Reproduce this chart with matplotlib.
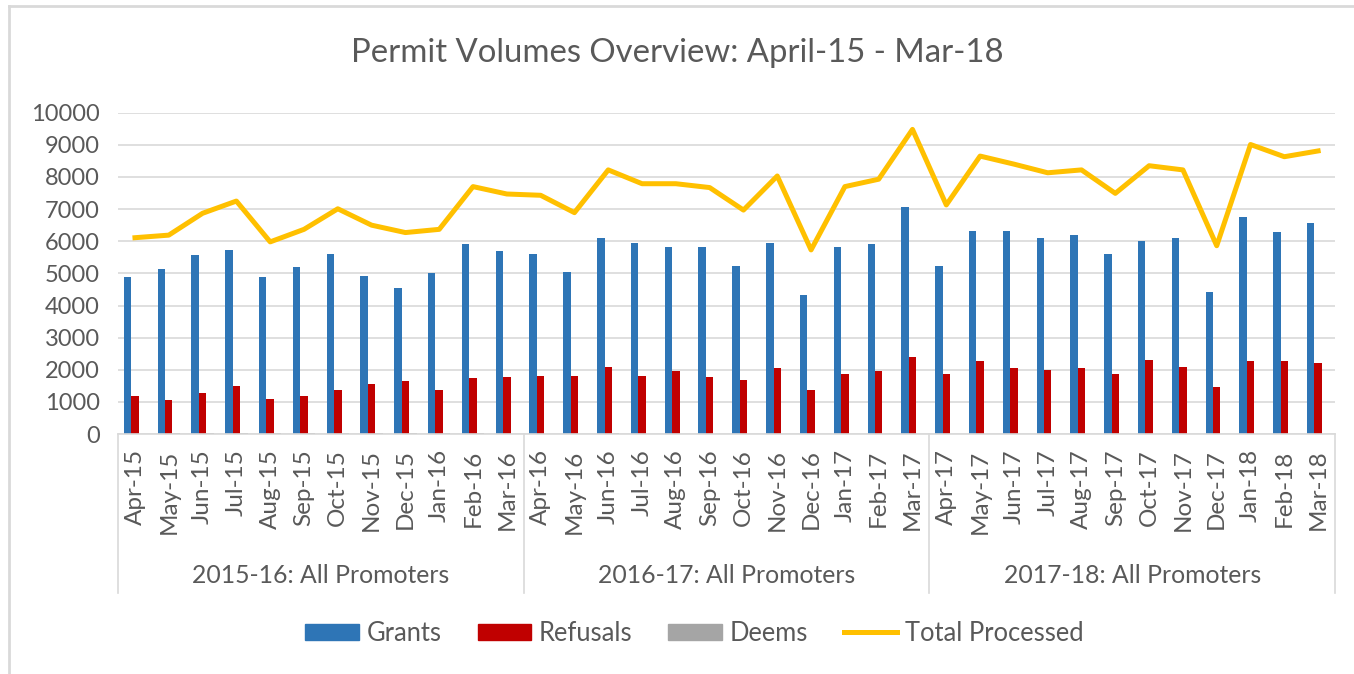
import matplotlib
matplotlib.use("Agg")
import matplotlib.pyplot as plt
from matplotlib.lines import Line2D
from matplotlib.patches import Patch
import numpy as np

plt.rcParams['font.family'] = ['Lato', 'DejaVu Sans']

months = ['Apr-15', 'May-15', 'Jun-15', 'Jul-15', 'Aug-15', 'Sep-15', 'Oct-15', 'Nov-15', 'Dec-15', 'Jan-16', 'Feb-16', 'Mar-16',
          'Apr-16', 'May-16', 'Jun-16', 'Jul-16', 'Aug-16', 'Sep-16', 'Oct-16', 'Nov-16', 'Dec-16', 'Jan-17', 'Feb-17', 'Mar-17',
          'Apr-17', 'May-17', 'Jun-17', 'Jul-17', 'Aug-17', 'Sep-17', 'Oct-17', 'Nov-17', 'Dec-17', 'Jan-18', 'Feb-18', 'Mar-18']
groups = ['2015-16: All Promoters', '2016-17: All Promoters', '2017-18: All Promoters']

grants = [4880, 5150, 5560, 5740, 4880, 5190, 5600, 4920, 4550, 5010, 5920, 5690,
          5590, 5050, 6100, 5960, 5830, 5830, 5240, 5960, 4320, 5830, 5920, 7050,
          5240, 6330, 6330, 6100, 6190, 5600, 6010, 6100, 4410, 6740, 6280, 6560]
refusals = [1180, 1050, 1280, 1500, 1090, 1180, 1360, 1550, 1640, 1360, 1730, 1770,
            1820, 1820, 2100, 1820, 1950, 1760, 1670, 2040, 1360, 1860, 1950, 2410,
            1860, 2270, 2040, 2000, 2040, 1860, 2310, 2090, 1450, 2270, 2270, 2220]
deems = [0, 30, 30, 30, 30, 20, 30, 30, 30, 30, 30, 10,
         0, 0, 30, 0, 0, 0, 0, 0, 0, 0, 0, 0,
         0, 0, 0, 0, 0, 0, 0, 0, 0, 0, 0, 0]
total = [6110, 6190, 6870, 7250, 5980, 6370, 7010, 6500, 6270, 6370, 7700, 7470,
         7430, 6890, 8220, 7790, 7790, 7670, 6970, 8030, 5730, 7700, 7930, 9480,
         7130, 8650, 8400, 8130, 8220, 7490, 8350, 8220, 5860, 9010, 8630, 8810]

c_grant = '#2E75B6'
c_ref = '#C00000'
c_deem = '#A5A5A5'
c_tot = '#FFC000'
c_text = '#595959'
c_grid = '#D9D9D9'

fig = plt.figure(figsize=(13.54, 6.74), dpi=100)
ax = fig.add_axes([0.0872, 0.356, 0.8988, 0.4768])

x = np.arange(len(months))
w = 0.22
ax.bar(x - w, grants, w, color=c_grant, label='Grants', zorder=2)
ax.bar(x, refusals, w, color=c_ref, label='Refusals', zorder=2)
ax.bar(x + w, deems, w, color=c_deem, label='Deems', zorder=2)
ax.plot(x, total, color=c_tot, lw=3.6, label='Total Processed', zorder=3)

ax.set_xlim(-0.5, len(months) - 0.5)
ax.set_ylim(0, 10000)
ax.set_yticks(range(0, 10001, 1000))
ax.yaxis.grid(True, color=c_grid, lw=1.2)
ax.set_axisbelow(True)
for s in ['top', 'right', 'left']:
    ax.spines[s].set_visible(False)
ax.spines['bottom'].set_color(c_grid)
ax.spines['bottom'].set_linewidth(1.2)

ax.set_xticks(x)
ax.set_xticklabels(months, rotation=90, fontsize=17.5, color=c_text)
ax.tick_params(axis='x', length=0, pad=11)
ax.tick_params(axis='y', length=0, pad=13, labelsize=17, labelcolor=c_text)

# group separators and labels under the month labels
for b in [-0.5, 11.5, 23.5, 35.5]:
    ax.plot([b, b], [0, -0.495], color=c_grid, lw=1.2, clip_on=False,
            transform=ax.get_xaxis_transform())
for i, g in enumerate(groups):
    ax.text(i * 12 + 5.5, -0.44, g, transform=ax.get_xaxis_transform(),
            ha='center', va='center', fontsize=17.8, color=c_text)

fig.text(0.5, 0.921, 'Permit Volumes Overview: April-15 - Mar-18', ha='center', va='center',
         fontsize=23.7, color=c_text)

handles = [Patch(color=c_grant), Patch(color=c_ref), Patch(color=c_deem),
           Line2D([], [], color=c_tot, lw=3.6)]
fig.legend(handles, ['Grants', 'Refusals', 'Deems', 'Total Processed'], loc='center',
           bbox_to_anchor=(0.513, 0.06), ncol=4, frameon=False, fontsize=18.4,
           handlelength=2.1, handleheight=0.6, handletextpad=0.3, columnspacing=1.4,
           labelcolor=c_text)

# light outer frame (top and left edges visible)
fig.add_artist(Line2D([9 / 1354, 1], [1 - 6 / 674, 1 - 6 / 674], color=c_grid, lw=2))
fig.add_artist(Line2D([9 / 1354, 9 / 1354], [0, 1 - 6 / 674], color=c_grid, lw=2))

fig.savefig('out.png', dpi=100)
